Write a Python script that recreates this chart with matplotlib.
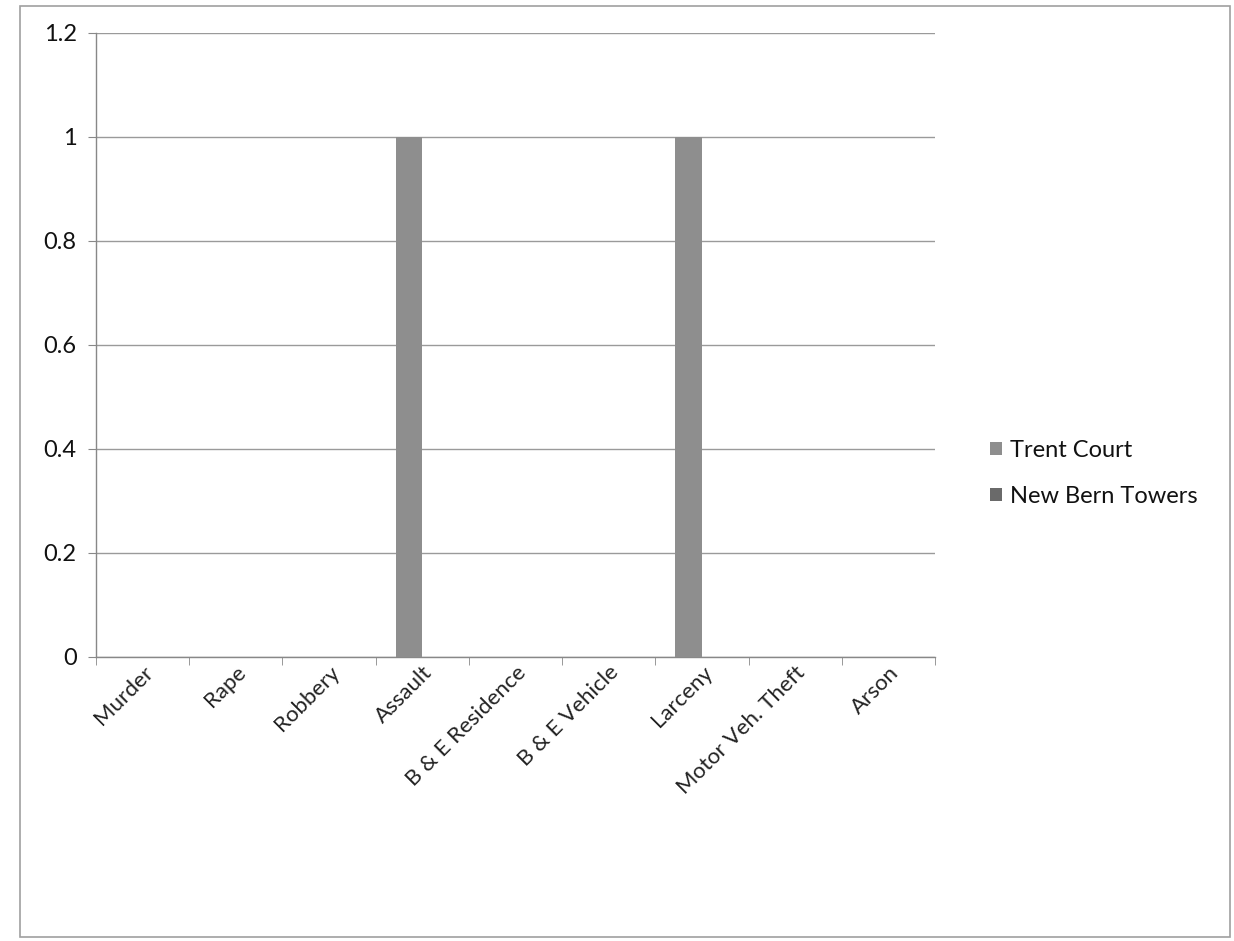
import matplotlib

matplotlib.use("Agg")

import matplotlib.pyplot as plt
import numpy as np
from matplotlib.patches import Rectangle

categories = [
    "Murder", "Rape", "Robbery", "Assault", "B & E Residence",
    "B & E Vehicle", "Larceny", "Motor Veh. Theft", "Arson",
]
trent_court = [0, 0, 0, 1, 0, 0, 1, 0, 0]
new_bern_towers = [0, 0, 0, 0, 0, 0, 0, 0, 0]
y_ticks = [0, 0.2, 0.4, 0.6, 0.8, 1, 1.2]
y_tick_labels = ["0", "0.2", "0.4", "0.6", "0.8", "1", "1.2"]

plt.rcParams["font.family"] = ["Lato", "DejaVu Sans"]

fig = plt.figure(figsize=(12.34, 9.41), dpi=100)
ax = fig.add_axes([0.0778, 0.302, 0.68, 0.663])

# outer chart frame
fig.patches.append(Rectangle((0.016, 0.004), 0.981, 0.99, transform=fig.transFigure,
                             fill=False, edgecolor="#a0a0a0", linewidth=1.2))

x = np.arange(len(categories))
width = 1 / 3.5
ax.bar(x - width / 2, trent_court, width, color="#8e8e8e", label="Trent Court", zorder=3)
ax.bar(x + width / 2, new_bern_towers, width, color="#6a6a6a", label="New Bern Towers", zorder=3)

ax.set_xlim(-0.5, len(categories) - 0.5)
ax.set_ylim(0, 1.2)
ax.set_yticks(y_ticks)
ax.set_yticklabels(y_tick_labels, fontsize=17, color="#111111")
ax.yaxis.grid(True, color="#9a9a9a", linewidth=1.0, zorder=0)

ax.set_xticks(x)
ax.set_xticklabels(categories, rotation=45, ha="right", va="top", rotation_mode="anchor",
                   fontsize=16, color="#222222")
ax.tick_params(axis="x", which="major", length=0, pad=4)
ax.set_xticks(np.arange(-0.5, len(categories)), minor=True)
ax.tick_params(axis="x", which="minor", length=6, color="#888888")
ax.tick_params(axis="y", length=6, color="#888888", pad=8)

for side in ["top", "right"]:
    ax.spines[side].set_visible(False)
for side in ["left", "bottom"]:
    ax.spines[side].set_color("#888888")
    ax.spines[side].set_linewidth(1.0)

leg = ax.legend(loc="center left", bbox_to_anchor=(0.785, 0.497), bbox_transform=fig.transFigure,
                frameon=False, fontsize=17, handlelength=0.5, handleheight=0.5,
                handletextpad=0.35, labelspacing=1.05)
for text in leg.get_texts():
    text.set_color("#111111")

fig.savefig("out.png")
